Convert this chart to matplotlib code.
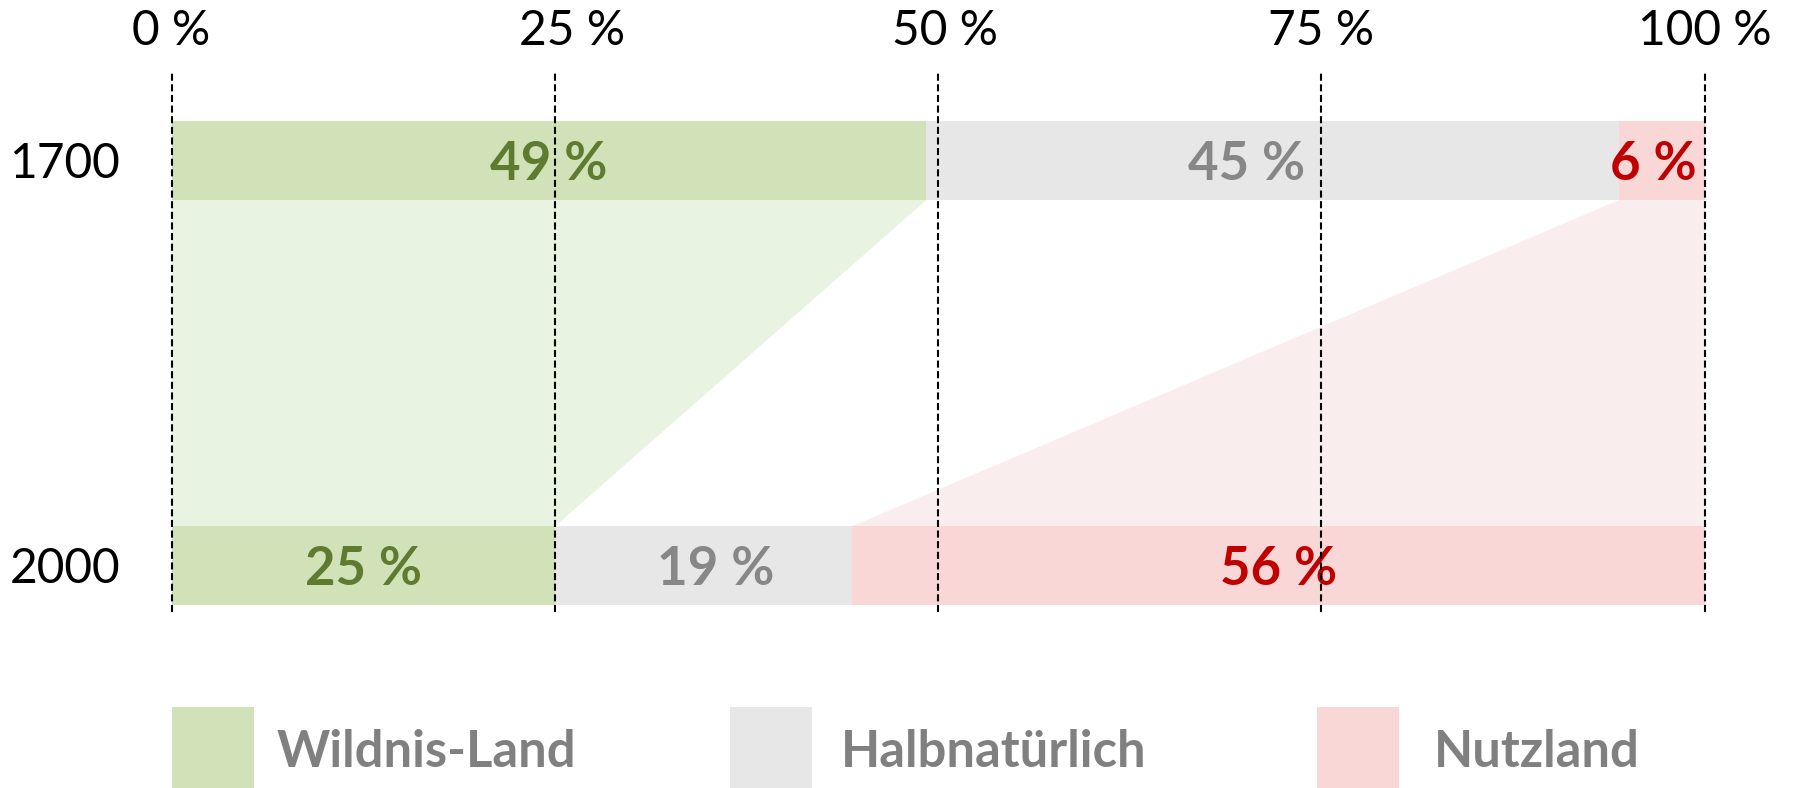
import matplotlib
matplotlib.use('Agg')
import matplotlib.pyplot as plt
from matplotlib.patches import Patch
from matplotlib.transforms import ScaledTranslation
import numpy as np

# ---- data ----
years = ['1700', '2000']
categories = ['Wildnis-Land', 'Halbnatürlich', 'Nutzland']
wildnis = [49.2, 25.0]
halb = [45.2, 19.4]
nutz = [5.6, 55.6]
xticks = [0, 25, 50, 75, 100]
xticklabels = ['0 %', '25 %', '50 %', '75 %', '100 %']

# ---- style ----
bar_colors = ['#d1e2b9', '#e7e7e7', '#f9d7d6']
poly_colors = ['#e9f3e2', '#f9eeed']
text_colors = ['#5e7b2f', '#878787', '#c00000']
legend_text_color = '#808080'
# small horizontal nudges of the value labels (pixels), per series / row
label_nudge = [[0, 0], [-26, 12], [-8, 0]]
tick_nudge = [0, 17, 7, 0, 0]

plt.rcParams['font.family'] = ['Lato', 'DejaVu Sans']

W, H = 1794, 788
fig = plt.figure(figsize=(W / 100, H / 100), dpi=100)
x0, x1 = 171.6, 1704.6
ytop, ybot = 71, 612
ax = fig.add_axes([x0 / W, (H - ybot) / H, (x1 - x0) / W, (ybot - ytop) / H])

ax.set_xlim(0, 100)
unit = 405.0
ax.set_ylim((ybot - ytop - 89) / unit, -89 / unit)
bh = 79 / unit

ypos = np.arange(len(years))
series = [wildnis, halb, nutz]
left = np.zeros(len(years))
for vals, col, tcol, nud in zip(series, bar_colors, text_colors, label_nudge):
    vals = np.array(vals)
    ax.barh(ypos, vals, left=left, height=bh, color=col, lw=0, zorder=1)
    for yi, (l, v) in enumerate(zip(left, vals)):
        tr = ax.transData + ScaledTranslation(nud[yi] / 100, 0, fig.dpi_scale_trans)
        ax.text(l + v / 2, yi, f'{v:.0f} %', ha='center', va='center_baseline',
                fontsize=38, fontweight='bold', color=tcol, zorder=2, transform=tr)
    left = left + vals

# connecting shapes
yb = ypos[0] + bh / 2
yt = ypos[1] - bh / 2
ax.fill_betweenx([yb, yt], [0, 0], [wildnis[0], wildnis[1]],
                 color=poly_colors[0], lw=0, zorder=0.5)
ax.fill_betweenx([yb, yt], [wildnis[0] + halb[0], wildnis[1] + halb[1]], [100, 100],
                 color=poly_colors[1], lw=0, zorder=0.5)

# axes styling
for s in ax.spines.values():
    s.set_visible(False)
ax.set_xticks(xticks)
ax.set_xticklabels(xticklabels)
ax.set_yticks(ypos)
ax.set_yticklabels(years, va='center_baseline')
ax.xaxis.tick_top()
ax.tick_params(axis='x', length=0, pad=13, labelsize=34.5, labelcolor='black')
ax.tick_params(axis='y', length=0, pad=37, labelsize=34.5, labelcolor='black')
ax.set_axisbelow(False)
ax.grid(axis='x', color='black', lw=1.5, linestyle=(0, (3.4, 1.7)))
ax.grid(axis='y', visible=False)
for gl in ax.xaxis.get_gridlines():
    gl.set_clip_on(False)
for tick, dx in zip(ax.xaxis.get_major_ticks(), tick_nudge):
    lab = tick.label2
    lab.set_transform(lab.get_transform() + ScaledTranslation(dx / 100, 0, fig.dpi_scale_trans))

# legend
leg_x = [172, 730, 1317]
leg_pad = [0.44, 0.56, 0.68]
for cat, col, lx, pad in zip(categories, bar_colors, leg_x, leg_pad):
    leg = fig.legend(handles=[Patch(facecolor=col, edgecolor='none', label=cat)],
                     loc='upper left', bbox_to_anchor=(lx / W, 1 - 707 / H),
                     frameon=False, borderpad=0, borderaxespad=0,
                     handlelength=1.62, handleheight=2.3, handletextpad=pad,
                     prop={'family': 'Lato', 'weight': 'bold', 'size': 36.5})
    for t in leg.get_texts():
        t.set_color(legend_text_color)

fig.savefig('out.png', dpi=100)
